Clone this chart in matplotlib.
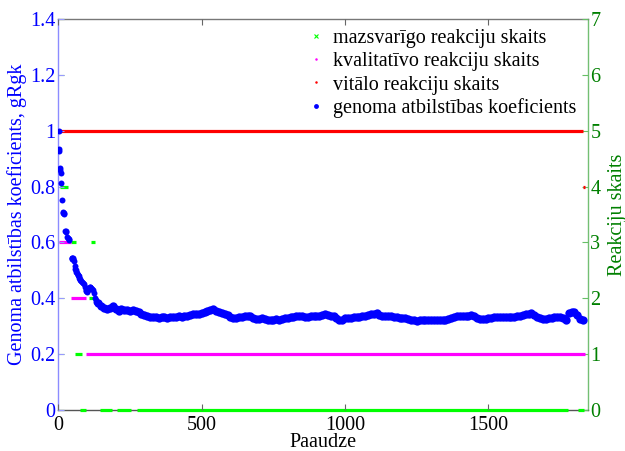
import matplotlib
matplotlib.use("Agg")
import matplotlib.pyplot as plt
from matplotlib.lines import Line2D

plt.rcParams['font.family'] = ['Liberation Serif', 'DejaVu Serif']

# genome fitness coefficient, early generations
early_gen = [1, 3, 4, 6, 7, 8, 9, 12, 17, 18, 19, 20, 25, 26, 27, 32, 34, 36, 38,
             46, 47, 48, 50, 52, 54, 57, 59, 61, 63, 65, 67, 69, 71, 73, 75, 77,
             80, 83, 86, 89, 92, 95, 98, 100, 103, 106, 109, 112, 115, 118, 121,
             124, 127, 130, 133, 136]
early_coef = [1.0, 0.935, 0.928, 0.866, 0.858, 0.85, 0.814, 0.752, 0.708, 0.705,
              0.706, 0.702, 0.642, 0.640, 0.638, 0.620, 0.615, 0.611, 0.607,
              0.546, 0.543, 0.540, 0.546, 0.540, 0.535, 0.515, 0.505, 0.500,
              0.495, 0.490, 0.485, 0.482, 0.478, 0.472, 0.468, 0.465, 0.462,
              0.458, 0.455, 0.452, 0.440, 0.430, 0.425, 0.423, 0.428, 0.436,
              0.441, 0.442, 0.438, 0.434, 0.430, 0.418, 0.402, 0.395, 0.388, 0.385]

# genome fitness coefficient, generations 140..1830 (every 10th)
late_coef = [
    0.382, 0.372, 0.364, 0.360, 0.367, 0.373, 0.362, 0.353, 0.360, 0.359,
    0.358, 0.356, 0.357, 0.353, 0.350, 0.344, 0.340, 0.337, 0.334, 0.334,
    0.332, 0.331, 0.333, 0.332, 0.331, 0.333, 0.334, 0.333, 0.335, 0.334,
    0.336, 0.338, 0.341, 0.345, 0.344, 0.345, 0.349, 0.352, 0.356, 0.358,
    0.360, 0.356, 0.352, 0.348, 0.345, 0.340, 0.334, 0.329, 0.330, 0.332,
    0.333, 0.335, 0.337, 0.335, 0.329, 0.325, 0.326, 0.328, 0.326, 0.324,
    0.322, 0.324, 0.326, 0.324, 0.327, 0.329, 0.330, 0.332, 0.334, 0.335,
    0.337, 0.336, 0.334, 0.333, 0.335, 0.336, 0.335, 0.338, 0.341, 0.344,
    0.341, 0.338, 0.335, 0.330, 0.324, 0.324, 0.328, 0.330, 0.331, 0.333,
    0.334, 0.334, 0.335, 0.336, 0.339, 0.342, 0.345, 0.346, 0.341, 0.338,
    0.337, 0.336, 0.335, 0.334, 0.332, 0.331, 0.330, 0.328, 0.326, 0.324,
    0.322, 0.320, 0.321, 0.322, 0.322, 0.321, 0.322, 0.323, 0.322, 0.321,
    0.322, 0.324, 0.327, 0.330, 0.334, 0.337, 0.336, 0.335, 0.336, 0.338,
    0.340, 0.338, 0.331, 0.327, 0.325, 0.325, 0.328, 0.331, 0.333, 0.334,
    0.334, 0.333, 0.334, 0.333, 0.332, 0.334, 0.337, 0.338, 0.340, 0.342,
    0.344, 0.346, 0.340, 0.334, 0.328, 0.325, 0.325, 0.328, 0.331, 0.333,
    0.334, 0.332, 0.329, 0.323, 0.347, 0.352, 0.350, 0.340, 0.325, 0.324]
late_gen = list(range(140, 140 + 10 * len(late_coef), 10))

# reaction counts as runs: (first generation, last generation, count)
minor_runs = [(7, 34, 4), (45, 62, 3), (115, 127, 3), (106, 132, 2), (57, 83, 1),
              (77, 97, 0), (147, 188, 0), (203, 252, 0), (275, 1778, 0), (1811, 1834, 0)]
quality_runs = [(1, 43, 3), (43, 96, 2), (96, 1835, 1)]
vital_runs = [(1, 1831, 5), (1831, 1835, 4)]

labels = ['mazsvarīgo reakciju skaits', 'kvalitatīvo reakciju skaits',
          'vitālo reakciju skaits', 'genoma atbilstības koeficients']

BLUE = (0, 0, 1)
DKGREEN = (0, 0.5, 0)
GREEN = (0, 1, 0)
MAGENTA = (1, 0, 1)
RED = (1, 0, 0)

fig = plt.figure(figsize=(6.25, 4.51), dpi=100)
ax = fig.add_axes([0.0933, 0.0909, 0.8470, 0.8670])
ax2 = ax.twinx()

for runs, col in [(minor_runs, GREEN), (quality_runs, MAGENTA), (vital_runs, RED)]:
    for a, b, v in runs:
        ax2.plot([a, b], [v, v], color=col, lw=2.3, solid_capstyle='butt',
                 zorder=3, clip_on=False)

ax.plot(early_gen, early_coef, 'o', color=BLUE, ms=4.3, mew=0, zorder=4)
ax.plot(late_gen, late_coef, 'o', color=BLUE, ms=6.0, mew=0, zorder=4)
ax.set_zorder(ax2.get_zorder() + 1)
ax.patch.set_visible(False)

ax.set_xlim(0, 1846)
ax.set_ylim(0, 1.4)
ax2.set_ylim(0, 7)
ax.set_xticks([0, 500, 1000, 1500])
ax.set_yticks([0, 0.2, 0.4, 0.6, 0.8, 1.0, 1.2, 1.4])
ax.set_yticklabels(['0', '0.2', '0.4', '0.6', '0.8', '1', '1.2', '1.4'])
ax2.set_yticks(range(8))

fs = 14.5
ax.tick_params(axis='x', direction='in', top=True, labelsize=fs, colors='black',
               length=4, pad=4, color='#666666')
ax.tick_params(axis='y', direction='in', labelsize=fs, colors=BLUE, length=4, pad=2,
               color=(0.6, 0.6, 1))
ax2.tick_params(axis='y', direction='in', labelsize=fs, colors=DKGREEN, length=4,
                pad=2, left=True, color=(0.4, 0.75, 0.4))

# frame is drawn by the count axes, beneath its run lines
for s in ax.spines.values():
    s.set_visible(False)
ax2.spines['top'].set_color('#777777')
ax2.spines['bottom'].set_color('#555555')
ax2.spines['left'].set_color((0.55, 0.55, 1))
ax2.spines['right'].set_color((0.45, 0.75, 0.45))
for s in ax2.spines.values():
    s.set_linewidth(1.0)
    s.set_zorder(1)

ax.set_xlabel('Paaudze', fontsize=fs, color='black', labelpad=-1)
ax.set_ylabel('Genoma atbilstības koeficients, gRgk', fontsize=fs, color=BLUE, labelpad=2)
ax2.set_ylabel('Reakciju skaits', fontsize=fs, color=DKGREEN, labelpad=5)

handles = [
    Line2D([], [], ls='none', marker='x', color=GREEN, ms=3, mew=0.8),
    Line2D([], [], ls='none', marker='o', color=MAGENTA, ms=1.8, mew=0),
    Line2D([], [], ls='none', marker='o', color=RED, ms=1.8, mew=0),
    Line2D([], [], ls='none', marker='o', color=BLUE, ms=3.5, mew=0),
]
leg = ax.legend(handles, labels, loc='upper right', bbox_to_anchor=(1.005, 1.01),
                frameon=False, fontsize=fs, handlelength=0.8, handletextpad=0.45,
                labelspacing=0.2, borderaxespad=0.3)

fig.savefig('out.png', dpi=100)
